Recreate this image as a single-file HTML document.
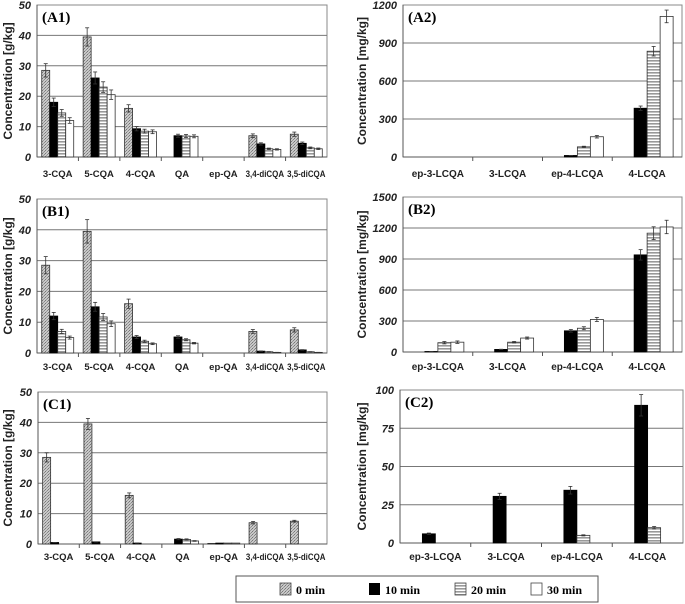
<!DOCTYPE html>
<html><head><meta charset="utf-8">
<style>
html,body{margin:0;padding:0;background:#fff;width:685px;height:604px;overflow:hidden}
svg text{font-family:"Liberation Sans",Arial,sans-serif}
</style></head>
<body>
<svg id="chart" width="685" height="604" viewBox="0 0 685 604" xmlns="http://www.w3.org/2000/svg">
<defs>
<pattern id="pDot" width="3" height="3" patternUnits="userSpaceOnUse">
<rect width="3" height="3" fill="#c8c8c8"/><rect x="0" y="0" width="1" height="1" fill="#777"/><rect x="2" y="1" width="1" height="1" fill="#888"/><rect x="1" y="2" width="1" height="1" fill="#999"/>
</pattern>
<pattern id="pStripe" width="4" height="3" patternUnits="userSpaceOnUse">
<rect width="4" height="3" fill="#fff"/><rect y="0" width="4" height="1.6" fill="#999"/>
</pattern>
</defs>
<g id="panels"></g>
<g>
<rect x="236" y="576" width="362" height="26" fill="#fff" stroke="#555" stroke-width="1"/>
<rect x="280" y="583" width="11" height="12" fill="url(#pDot)" stroke="#444" stroke-width="0.8"/>
<text x="296" y="594" font-weight="bold" font-size="12" style="font-family:'Liberation Serif',serif">0 min</text>
<rect x="369" y="583" width="11" height="12" fill="#000"/>
<text x="385" y="594" font-weight="bold" font-size="12" style="font-family:'Liberation Serif',serif">10 min</text>
<rect x="455" y="583" width="11" height="12" fill="url(#pStripe)" stroke="#444" stroke-width="0.8"/>
<text x="471" y="594" font-weight="bold" font-size="12" style="font-family:'Liberation Serif',serif">20 min</text>
<rect x="531" y="583" width="11" height="12" fill="#fff" stroke="#444" stroke-width="0.8"/>
<text x="547" y="594" font-weight="bold" font-size="12" style="font-family:'Liberation Serif',serif">30 min</text>
</g>
</svg>
<script>
const catsCQA = ["3-CQA","5-CQA","4-CQA","QA","ep-QA","3,4-diCQA","3,5-diCQA"];
const catsLCQA = ["ep-3-LCQA","3-LCQA","ep-4-LCQA","4-LCQA"];
const seriesNames = ["0 min","10 min","20 min","30 min"];
const a1_0 = [28.5,39.5,16,0,0,7,7.5];
const a1_10 = [18,26,9.3,7,0,4.3,4.5];
const a1_20 = [14.5,23,8.5,6.9,0,2.7,3];
const a1_30 = [12,20.5,8.3,6.8,0,2.5,2.7];
const a1_err = [2.2,3,1.2,0.5,0,0.6,0.7];
const a2_0 = [0,0,0,0];
const a2_10 = [0,0,12,385];
const a2_20 = [0,0,80,835];
const a2_30 = [0,0,160,1110];
const a2_err = [0,0,10,50];
const b1_0 = [28.5,39.5,16,0,0,7,7.5];
const b1_10 = [12,15,5.2,5.2,0,0.6,1];
const b1_20 = [7,11.7,3.8,4.3,0,0.4,0.4];
const b1_30 = [5,9.5,3,3.2,0,0.2,0.2];
const b1_err = [2.8,3.8,1.5,0.4,0,0.6,0.7];
const b2_0 = [0,0,0,0];
const b2_10 = [5,25,205,940];
const b2_20 = [90,95,230,1150];
const b2_30 = [95,135,315,1210];
const b2_err = [12,10,20,65];
const c1_0 = [28.5,39.5,16,0,0.2,7,7.5];
const c1_10 = [0.5,0.7,0.3,1.6,0.3,0,0];
const c1_20 = [0,0,0,1.5,0.3,0,0];
const c1_30 = [0,0,0,1.0,0.3,0,0];
const c1_err = [1.5,1.8,0.8,0.2,0,0.4,0.3];
const c2_0 = [0,0,0,0];
const c2_10 = [6,30.5,34.5,90];
const c2_20 = [0,0,5,10];
const c2_30 = [0,0,0,0];
const c2_err = [0.5,2,2.5,7];
const ticksA1 = [0,10,20,30,40,50];
const ticksA2 = [0,300,600,900,1200];
const ticksB2 = [0,300,600,900,1200,1500];
const ticksC2 = [0,25,50,75,100];

const NS="http://www.w3.org/2000/svg";
const root=document.getElementById('panels');
const fills=["url(#pDot)","#000","url(#pStripe)","#fff"];
function mk(tag,attrs,parent){const e=document.createElementNS(NS,tag);for(const k in attrs)e.setAttribute(k,attrs[k]);parent.appendChild(e);return e;}

function panel(cfg){
  const g=mk('g',{},root);
  
  
  const {x0,x1,y0,y1,ticks,cats,series,err}=cfg;
  const ymax=ticks[ticks.length-1];
  const yS=v=>y0-(v/ymax)*(y0-y1);
  mk('rect',{x:x0,y:y1,width:x1-x0,height:y0-y1,fill:'#fff',stroke:'#888','stroke-width':1},g);
  ticks.forEach(t=>{
    if(t>0&&t<ymax){const l=mk('line',{x1:x0,x2:x1,y1:yS(t),y2:yS(t),stroke:'#777','stroke-width':1},g);
    
    }
    const tx=mk('text',{x:x0-6,y:yS(t)+4,'text-anchor':'end','font-size':11,'font-weight':'bold','font-style':'italic',fill:'#222'},g);
    tx.textContent=t;
    
    
  });
  mk('line',{x1:x0,x2:x0,y1:y1,y2:y0,stroke:'#555','stroke-width':1},g);
  mk('line',{x1:x0,x2:x1,y1:y0,y2:y0,stroke:'#555','stroke-width':1},g);
  const cw=(x1-x0)/cats.length;
  cats.forEach((c,i)=>{
    const cx=x0+cw*(i+0.5);
    const lab=mk('text',{x:cx,y:cfg.labY,'text-anchor':'middle','font-size':cfg.labFs,'font-weight':'bold',fill:'#222'},g);
    lab.textContent=c;
    if(c.length>8&&cats.length>5){lab.setAttribute('textLength', cw-3);lab.setAttribute('lengthAdjust','spacingAndGlyphs');}
    
    
    if(i>0){mk('line',{x1:x0+cw*i,x2:x0+cw*i,y1:y0,y2:y0+4,stroke:'#555'},g);}
    const bw=cfg.bw, gx=cx-2*bw;
    const maxV=Math.max(series[0][i],series[1][i],series[2][i],series[3][i]);
    series.forEach((arr,s)=>{
      const v=arr[i]; if(v<=0) return;
      const bx=gx+s*bw, by=yS(v);
      const r=mk('rect',{x:bx,y:by,width:bw,height:y0-by,fill:fills[s],stroke:s==1?'#000':'#333','stroke-width':0.8},g);
      
      
      const e=err[i]*(v/maxV);
      if(e>0.0001){
        const ex=bx+bw/2,ey1=yS(v+e),ey2=yS(Math.max(0,v-e));
        mk('line',{x1:ex,x2:ex,y1:ey1,y2:ey2,stroke:'#333','stroke-width':0.8},g);
        mk('line',{x1:ex-2,x2:ex+2,y1:ey1,y2:ey1,stroke:'#333','stroke-width':0.8},g);
        mk('line',{x1:ex-2,x2:ex+2,y1:ey2,y2:ey2,stroke:'#333','stroke-width':0.8},g);
      }
    });
  });
  const pl=mk('text',{x:x0+5,y:y1+17,'font-size':15,'font-weight':'bold',style:"font-family:'Liberation Serif',serif"},g);
  pl.textContent='('+cfg.id+')';
  
  
  const ym=(y0+y1)/2;
  const yt=mk('text',{x:cfg.titleX,y:ym,'text-anchor':'middle','font-size':12,'font-weight':'bold',transform:`rotate(-90 ${cfg.titleX} ${ym})`,fill:'#222'},g);
  yt.textContent=cfg.title;
  
  
}

panel({id:'A1',x0:37,x1:327,y0:157,y1:5,ticks:ticksA1,cats:catsCQA,series:[a1_0,a1_10,a1_20,a1_30],err:a1_err,bw:8,labY:177,labFs:9.5,title:'Concentration [g/kg]',titleX:12});
panel({id:'A2',x0:403,x1:682,y0:157,y1:5,ticks:ticksA2,cats:catsLCQA,series:[a2_0,a2_10,a2_20,a2_30],err:a2_err,bw:13,labY:177,labFs:10,title:'Concentration [mg/kg]',titleX:366});
panel({id:'B1',x0:37,x1:327,y0:353,y1:199,ticks:ticksA1,cats:catsCQA,series:[b1_0,b1_10,b1_20,b1_30],err:b1_err,bw:8,labY:370,labFs:9.5,title:'Concentration [g/kg]',titleX:12});
panel({id:'B2',x0:403,x1:682,y0:352,y1:197,ticks:ticksB2,cats:catsLCQA,series:[b2_0,b2_10,b2_20,b2_30],err:b2_err,bw:13,labY:370,labFs:10,title:'Concentration [mg/kg]',titleX:366});
panel({id:'C1',x0:38,x1:327,y0:544,y1:392,ticks:ticksA1,cats:catsCQA,series:[c1_0,c1_10,c1_20,c1_30],err:c1_err,bw:8,labY:560,labFs:9.5,title:'Concentration [g/kg]',titleX:12});
panel({id:'C2',x0:400,x1:683,y0:543,y1:390,ticks:ticksC2,cats:catsLCQA,series:[c2_0,c2_10,c2_20,c2_30],err:c2_err,bw:13,labY:560,labFs:10,title:'Concentration [mg/kg]',titleX:366});
</script>
</body></html>
